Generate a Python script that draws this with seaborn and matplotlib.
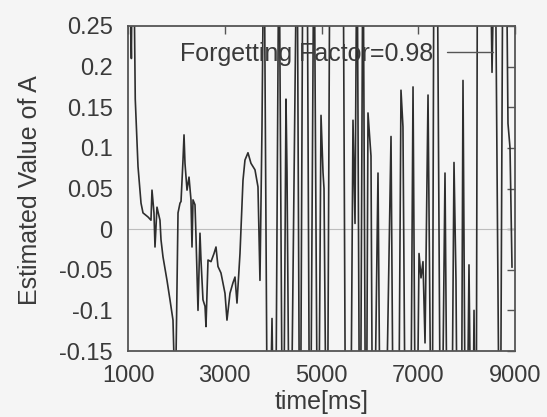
import matplotlib
matplotlib.use("Agg")
import matplotlib.pyplot as plt
import seaborn as sns
import pandas as pd

# Estimated parameter A over time (RLS estimate, forgetting factor 0.98)
time_ms = [
    1000, 1070, 1100, 1150, 1190, 1207, 1269, 1310, 1413, 1475, 1496, 1537,
    1558, 1599, 1661, 1682, 1723, 1806, 1868, 1930, 1955, 1990, 2034, 2075,
    2096, 2137, 2158, 2178, 2220, 2261, 2302, 2323, 2344, 2385, 2406, 2447,
    2488, 2509, 2550, 2592, 2612, 2654, 2716, 2778, 2819, 2860, 2922, 3005,
    3046, 3108, 3170, 3212, 3253, 3315, 3377, 3418, 3480, 3542, 3625, 3687,
    3728, 3770, 3811, 3894, 3977, 4039, 4121,
    4204, 4266, 4287, 4349, 4494, 4556, 4618, 4700, 4762, 4845, 4928, 4990,
    5031, 5052, 5114, 5176, 5445, 5506, 5589, 5651, 5693, 5734, 5796, 5858,
    5920, 5961, 6023, 6065, 6168, 6230, 6292, 6437, 6499, 6581, 6643, 6684,
    6747, 6830, 6892, 6954, 7016, 7057, 7098, 7140, 7202, 7284, 7326, 7388,
    7470, 7553, 7615, 7677, 7739, 7780, 7822, 7884, 7925, 7987, 8049, 8111,
    8153, 8194, 8225, 8480, 8525, 8587, 8690, 8752, 8814, 8855, 8897, 8917,
    8938,
]
estimate_a = [
    0.45, 0.21, 0.45, 0.16, 0.10, 0.077, 0.032, 0.02, 0.015, 0.011, 0.048, 0.02,
    -0.022, 0.027, 0.011, -0.013, -0.034, -0.063, -0.087, -0.112, -0.17, -0.17, 0.02, 0.032,
    0.034, 0.085, 0.116, 0.081, 0.048, 0.064, 0.036, -0.022, 0.036, 0.03, -0.01, -0.10,
    -0.005, -0.038, -0.087, -0.095, -0.12, -0.038, -0.04, -0.03, -0.022, -0.046, -0.054, -0.079,
    -0.112, -0.079, -0.066, -0.059, -0.091, -0.03, 0.06, 0.085, 0.094, 0.081, 0.073, 0.052,
    -0.063, 0.126, 0.40, -0.40, -0.11, -0.40, 0.40,
    -0.40, 0.16, 0.07, -0.40, 0.40, -0.40, 0.40, 0.40, -0.40, 0.40, -0.40, 0.14,
    0.07, 0.05, -0.40, 0.40, 0.40, -0.40, -0.40, 0.134, 0.007, 0.40, -0.40, 0.40,
    -0.40, 0.143, 0.09, -0.40, 0.069, -0.40, -0.40, 0.114, -0.40, -0.40, 0.171, 0.126,
    -0.40, -0.40, 0.175, -0.40, -0.03, -0.06, -0.04, -0.14, 0.165, -0.40, 0.40, 0.40,
    -0.40, 0.069, -0.40, -0.40, 0.082, -0.063, -0.40, -0.40, 0.183, -0.40, -0.044, -0.40,
    -0.10, -0.40, 0.40, 0.40, 0.193, 0.40, -0.40, 0.40, 0.40, 0.13, 0.10, 0.03,
    -0.047,
]

x_ticks = [1000, 3000, 5000, 7000, 9000]
y_ticks = [0.25, 0.2, 0.15, 0.1, 0.05, 0, -0.05, -0.1, -0.15]
y_tick_labels = ["0.25", "0.2", "0.15", "0.1", "0.05", "0", "-0.05", "-0.1", "-0.15"]
series_label = "Forgetting Factor=0.98"

df = pd.DataFrame({"time": time_ms, "A": estimate_a})

sns.set_theme(style="white")
plt.rcParams["font.family"] = ["Liberation Sans", "DejaVu Sans"]

bg = "#f5f5f5"
ink = "#3a3a3a"

W, H = 547, 417
fig = plt.figure(figsize=(W / 100, H / 100), dpi=100, facecolor=bg)
L, R, T, B = 128, 515, 26, 351
ax = fig.add_axes([L / W, 1 - B / H, (R - L) / W, (B - T) / H], facecolor=bg)

ax.axhline(0, color="#bdbdbd", lw=0.8, zorder=1)

sns.lineplot(data=df, x="time", y="A", sort=False, estimator=None,
             color="#2e2e2e", lw=1.2, ax=ax, label=series_label, zorder=2)

ax.set_xlim(1000, 9000)
ax.set_ylim(-0.15, 0.25)
ax.set_xticks(x_ticks)
ax.set_xticklabels([str(v) for v in x_ticks])
ax.set_yticks(y_ticks)
ax.set_yticklabels(y_tick_labels)
ax.tick_params(direction="in", length=6, width=1.0, color="#555555",
               top=True, right=True, labelsize=17, labelcolor=ink)
ax.tick_params(axis="x", pad=10)
ax.tick_params(axis="y", pad=11)
for s in ax.spines.values():
    s.set_color("#555555")
    s.set_linewidth(1.3)

ax.set_xlabel("")
ax.set_ylabel("")
fig.text(322 / W, 1 - 402 / H, "time[ms]", ha="center", va="center",
         fontsize=18, color=ink)
fig.text(30 / W, 1 - 190 / H, "Estimated Value of A", ha="center",
         va="center", rotation=90, fontsize=18, color=ink)

leg = ax.legend(loc="center right",
                bbox_to_anchor=((493 - L) / (R - L), (B - 54) / (B - T)),
                frameon=False, markerfirst=False, fontsize=18,
                handlelength=1.85, handletextpad=0.55,
                borderpad=0, borderaxespad=0)
for t in leg.get_texts():
    t.set_color(ink)
for h in leg.get_lines():
    h.set_color("#555555")
    h.set_linewidth(1.0)

fig.savefig("out.png", dpi=100, facecolor=bg)
